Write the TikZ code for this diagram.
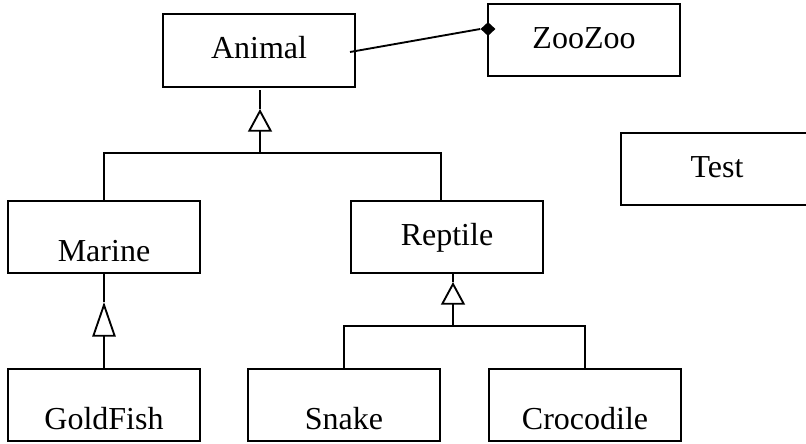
\documentclass[tikz,border=0pt]{standalone}
\usepackage{fontspec}
\setmainfont{Liberation Serif}
\usetikzlibrary{arrows.meta,shapes.geometric,calc}
\begin{document}
\begin{tikzpicture}[x=0.75pt,y=-0.75pt,
  box/.style={draw, line width=1.4pt, rectangle, minimum width=144pt, minimum height=54pt, inner sep=0pt, outer sep=0pt},
  lbl/.style={anchor=base, inner sep=0pt, font=\fontsize{24}{28}\selectfont},
  conn/.style={line width=1.4pt},
  inh/.style={conn, -{Triangle[open, length=17pt, width=18pt]}},
  inhlong/.style={conn, -{Triangle[open, length=26pt, width=17.5pt]}},
]
\useasboundingbox (0,0) rectangle (806,443);
\clip (0,0) rectangle (806,443);

% boxes
\node[box, minimum height=54.75pt] (Animal) at (259,50.5) {};
\node[box] (ZooZoo)    at (584,40) {};
\node[box] (Test)      at (717,169) {};
\node[box] (Marine)    at (104,237) {};
\node[box] (Reptile)   at (447,237) {};
\node[box] (GoldFish)  at (104,405) {};
\node[box] (Snake)     at (344,405) {};
\node[box] (Crocodile) at (585,405) {};

% labels
\node[lbl] (tAnimal)    at (259,58)  {Animal};
\node[lbl] (tZooZoo)    at (584,48) {ZooZoo};
\node[lbl] (tTest)      at (717,177) {Test};
\node[lbl] (tMarine)    at (104,261) {Marine};
\node[lbl] (tReptile)   at (447,245) {Reptile};
\node[lbl] (tGoldFish)  at (104,429) {GoldFish};
\node[lbl] (tSnake)     at (344,429) {Snake};
\node[lbl] (tCrocodile) at (585,429) {Crocodile};

% composition Animal -- ZooZoo
\node[diamond, fill=black, draw=none, inner sep=0pt, minimum width=11.25pt, minimum height=10.5pt] (dia) at (488,29) {};
\coordinate (aOut) at (350,52);
\draw[conn] (aOut) -- (dia.west);

% inheritance to Animal
\coordinate (jA) at (260,153);
\coordinate (apA) at (260,109);
\coordinate (stA) at (260,90);
\draw[conn] (Marine.north) |- (jA) -| (441,201);
\draw[inh] (jA) -- (apA);
\draw[conn] (apA) -- (stA);

% inheritance Marine <- GoldFish
\coordinate (apM) at (104,302);
\draw[inhlong] (GoldFish.north) -- (apM);
\draw[conn] (apM) -- (Marine.south);

% inheritance Reptile <- Snake, Crocodile
\coordinate (jR) at (453,326);
\coordinate (apR) at (453,282);
\draw[conn] (Snake.north) |- (jR) -| (Crocodile.north);
\draw[inh] (jR) -- (apR);
\draw[conn] (apR) -- (Reptile.south -| 453,0);
\end{tikzpicture}
\end{document}
